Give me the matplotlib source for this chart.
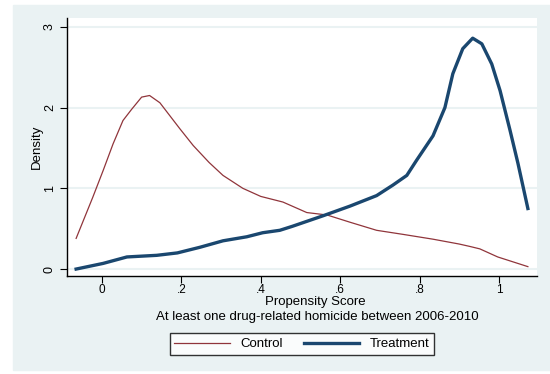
import matplotlib.pyplot as plt
from matplotlib.patches import Rectangle

plt.rcParams['font.family'] = ['Liberation Sans', 'DejaVu Sans']

# kernel density estimates
control_x = [-0.065, -0.023, 0.003, 0.028, 0.053, 0.075, 0.10, 0.12, 0.146, 0.171,
             0.196, 0.23, 0.27, 0.305, 0.355, 0.40, 0.456, 0.516, 0.567, 0.625,
             0.692, 0.758, 0.834, 0.90, 0.927, 0.952, 0.997, 1.073]
control_y = [0.38, 0.89, 1.22, 1.55, 1.84, 1.98, 2.13, 2.15, 2.06, 1.90,
             1.74, 1.53, 1.32, 1.16, 1.0, 0.90, 0.83, 0.70, 0.67, 0.58,
             0.48, 0.43, 0.37, 0.31, 0.28, 0.25, 0.15, 0.03]

treat_x = [-0.065, 0.003, 0.063, 0.138, 0.19, 0.247, 0.305, 0.365, 0.405, 0.448,
           0.48, 0.557, 0.625, 0.692, 0.733, 0.768, 0.793, 0.834, 0.864, 0.884,
           0.909, 0.934, 0.957, 0.982, 1.003, 1.028, 1.048, 1.073]
treat_y = [0.0, 0.07, 0.15, 0.17, 0.20, 0.27, 0.35, 0.40, 0.45, 0.48,
           0.53, 0.66, 0.78, 0.91, 1.04, 1.16, 1.35, 1.65, 2.0, 2.42,
           2.73, 2.86, 2.79, 2.54, 2.21, 1.72, 1.31, 0.75]

xticks = [0, 0.2, 0.4, 0.6, 0.8, 1.0]
xtick_labels = ['0', '.2', '.4', '.6', '.8', '1']
yticks = [0, 1, 2, 3]

fig = plt.figure(figsize=(5.5, 3.74), dpi=100)
fig.patches.append(Rectangle((13 / 550, 4 / 374), 1, 365 / 374,
                             transform=fig.transFigure, color='#eaf2f3', zorder=-1))

ax = fig.add_axes([67 / 550, 1 - 276 / 374, 470 / 550, 258 / 374])
ax.plot(control_x, control_y, color='#90353b', lw=0.9, label='Control')
ax.plot(treat_x, treat_y, color='#1a476f', lw=2.4, label='Treatment')

ax.set_xlim(-0.088, 1.096)
ax.set_ylim(-0.086, 3.11)
ax.set_xticks(xticks)
ax.set_xticklabels(xtick_labels)
ax.set_yticks(yticks)
ax.tick_params(axis='y', labelrotation=90, labelsize=9, length=5, width=0.8, pad=3)
ax.tick_params(axis='x', labelsize=8.5, length=5, width=0.8, pad=1)
for lbl in ax.get_yticklabels():
    lbl.set_va('center')
ax.grid(axis='y', color='#eaf2f3', lw=1.5)
ax.set_axisbelow(True)
for side in ['top', 'right']:
    ax.spines[side].set_visible(False)
ax.spines['left'].set_linewidth(1.0)
ax.spines['bottom'].set_linewidth(1.0)

ax.set_ylabel('Density', fontsize=9.5, labelpad=1)
fig.text(315 / 550, 1 - 302 / 374, 'Propensity Score', ha='center', va='center', fontsize=9.5)
fig.text(317 / 550, 1 - 317 / 374, 'At least one drug-related homicide between 2006-2010',
         ha='center', va='center', fontsize=9.5)

leg = fig.legend(loc='center', bbox_to_anchor=(302 / 550, 1 - 344 / 374), ncol=2,
                 fontsize=9.5, frameon=True, fancybox=False, edgecolor='black',
                 handlelength=4.2, columnspacing=1.6, borderpad=0.35)
leg.get_frame().set_linewidth(1.0)

fig.savefig('out.png', dpi=100)
